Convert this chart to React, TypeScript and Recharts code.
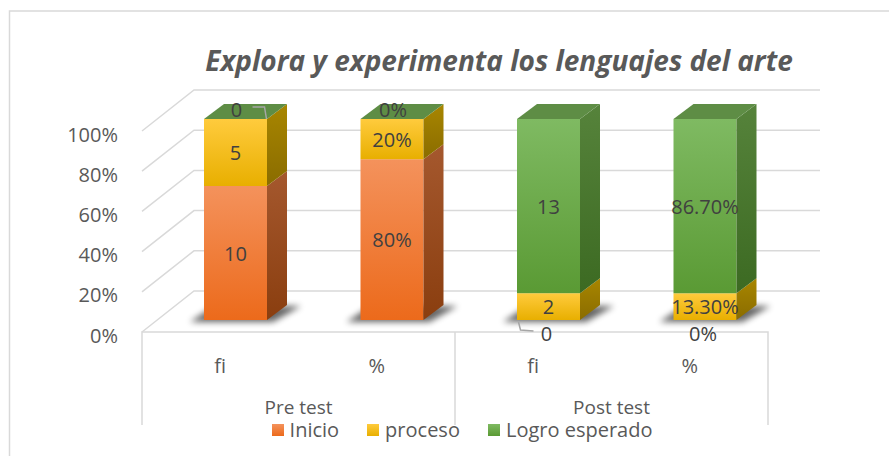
import React from "react";
import { Bar, BarChart, CartesianGrid, Customized, LabelList, XAxis, YAxis } from "recharts";

const categories = ["fi", "%", "fi", "%"];
const groups = ["Pre test", "Post test"];
const inicio = [10, 80, 0, 0];
const proceso = [5, 20, 2, 13.3];
const logro = [0, 0, 13, 86.7];
const inicioLabels = ["10", "80%", "0", "0%"];
const procesoLabels = ["5", "20%", "2", "13.30%"];
const logroLabels = ["0", "0%", "13", "86.70%"];
const yTicks = [0, 0.2, 0.4, 0.6, 0.8, 1];
const title = "Explora y experimenta los lenguajes del arte";

const W = 889;
const H = 456;
// plane the bars stand in; front and back planes are shifted from it
const PLOT = { left: 157, top: 119, width: 626, height: 201 };
const BAR_DEPTH = { dx: 20, dy: -15 };
const FRONT = { dx: -15, dy: 12 };
const BACK = { dx: 37, dy: -29 };
const FONT = "'Open Sans', sans-serif";
const AXIS_TEXT = "#595959";
const LABEL_TEXT = "#404040";
const GRID = "#d9d9d9";
const X_AXIS_H = 30;
const Y_AXIS_W = 60;

const series = [
  { key: "inicio", name: "Inicio", labelKey: "inicioLabel", zeroAt: "bottom", front: ["#F4925C", "#EC6A1B"], side: ["#A5582E", "#8A3E0F"], top: "#D2703A" },
  { key: "proceso", name: "proceso", labelKey: "procesoLabel", zeroAt: "top", front: ["#FFCB3D", "#E8AF00"], side: ["#A88600", "#8A6C00"], top: "#D8A800" },
  { key: "logro", name: "Logro esperado", labelKey: "logroLabel", zeroAt: "top", front: ["#7FBA62", "#5A9A34"], side: ["#56833B", "#3C6A22"], top: "#5E8D45" },
];

const data = categories.map((name, i) => ({
  name,
  inicio: inicio[i],
  proceso: proceso[i],
  logro: logro[i],
  inicioLabel: inicioLabels[i],
  procesoLabel: procesoLabels[i],
  logroLabel: logroLabels[i],
}));

function makeShape(s: (typeof series)[number], isBottom: boolean, isTop: boolean) {
  return (props: any) => {
    const { x, y, width, height } = props;
    const { dx, dy } = BAR_DEPTH;
    const base = y + height;
    return (
      <g>
        {isBottom && (
          <polygon
            points={`${x - 14},${base + 2} ${x + width + 6},${base + 2} ${x + width + 34},${base - 14} ${x + 10},${base - 14}`}
            fill="#000"
            opacity={0.6}
            filter="url(#barShadow)"
          />
        )}
        {height > 0 && <rect x={x} y={y} width={width} height={height} fill={`url(#front-${s.key})`} />}
        {height > 0 && (
          <polygon
            points={`${x + width},${y} ${x + width + dx},${y + dy} ${x + width + dx},${base + dy} ${x + width},${base}`}
            fill={`url(#side-${s.key})`}
          />
        )}
        {isTop && (
          <polygon points={`${x},${y} ${x + dx},${y + dy} ${x + width + dx},${y + dy} ${x + width},${y}`} fill={s.top} />
        )}
      </g>
    );
  };
}

function makeLabel(zeroAt: string) {
  return (props: any) => {
    const { x, y, width, height, value } = props;
    const cx = x + width / 2;
    const txt = { fontFamily: FONT, fontSize: 20, fill: LABEL_TEXT, textAnchor: "middle" as const, dominantBaseline: "central" as const };
    const zero = value === "0" || value === "0%";
    if (!zero) {
      return (
        <text x={cx} y={y + height / 2} {...txt}>
          {value}
        </text>
      );
    }
    if (zeroAt === "top") {
      return (
        <g>
          <text x={cx + 1} y={y - 10} {...txt}>
            {value}
          </text>
          {value === "0" && (
            <polyline points={`${cx + 17},${y - 12} ${cx + 29},${y - 12} ${cx + 31},${y}`} fill="none" stroke="#a6a6a6" strokeWidth={1.5} />
          )}
        </g>
      );
    }
    const base = y + height;
    return (
      <g>
        <text x={cx - 2} y={base + 13} {...txt}>
          {value}
        </text>
        {value === "0" && (
          <polyline points={`${cx - 30},${base + 2} ${cx - 28},${base + 10} ${cx - 15},${base + 11}`} fill="none" stroke="#a6a6a6" strokeWidth={1.5} />
        )}
      </g>
    );
  };
}

const gridLine = (p: any) => {
  const { x1, x2, y1 } = p;
  return (
    <polyline
      key={`grid-${y1}`}
      points={`${x1 + FRONT.dx},${y1 + FRONT.dy} ${x1 + BACK.dx},${y1 + BACK.dy} ${x2 + BACK.dx},${y1 + BACK.dy}`}
      fill="none"
      stroke={GRID}
      strokeWidth={1.5}
    />
  );
};

const YTick = (p: any) => (
  <text x={PLOT.left - 39} y={p.y + 15} textAnchor="end" dominantBaseline="central" fontFamily={FONT} fontSize={20} fill={AXIS_TEXT}>
    {`${Math.round(p.payload.value * 100)}%`}
  </text>
);

const XTick = (p: any) => (
  <text x={p.x + FRONT.dx} y={365} textAnchor="middle" dominantBaseline="central" fontFamily={FONT} fontSize={20} fill={AXIS_TEXT}>
    {p.payload.value}
  </text>
);

function Decorations() {
  const floorY = PLOT.top + PLOT.height + FRONT.dy;
  const left = PLOT.left + FRONT.dx;
  const right = PLOT.left + PLOT.width + FRONT.dx;
  const groupW = (right - left) / groups.length;
  const boxBottom = 425;
  return (
    <g>
      <defs>
        {series.map((s) => (
          <React.Fragment key={s.key}>
            <linearGradient id={`front-${s.key}`} x1="0" y1="0" x2="0" y2="1">
              <stop offset="0%" stopColor={s.front[0]} />
              <stop offset="100%" stopColor={s.front[1]} />
            </linearGradient>
            <linearGradient id={`side-${s.key}`} x1="0" y1="0" x2="0" y2="1">
              <stop offset="0%" stopColor={s.side[0]} />
              <stop offset="100%" stopColor={s.side[1]} />
            </linearGradient>
          </React.Fragment>
        ))}
        <filter id="barShadow" x="-50%" y="-100%" width="200%" height="300%">
          <feGaussianBlur stdDeviation="3" />
        </filter>
      </defs>
      <rect x={9.5} y={11} width={W} height={H} fill="none" stroke={GRID} strokeWidth={1.5} />
      <text x={499} y={71} textAnchor="middle" fontFamily={FONT} fontSize={28} fontWeight={700} fontStyle="italic" fill={AXIS_TEXT}>
        {title}
      </text>
      <polyline
        points={`${left},${boxBottom} ${left},${floorY} ${right},${floorY} ${right},${boxBottom}`}
        fill="none"
        stroke={GRID}
        strokeWidth={1.5}
      />
      {groups.slice(1).map((g, i) => (
        <line key={g} x1={left + groupW * (i + 1)} y1={floorY} x2={left + groupW * (i + 1)} y2={boxBottom} stroke={GRID} strokeWidth={1.5} />
      ))}
      {groups.map((g, i) => (
        <text key={g} x={left + groupW * (i + 0.5)} y={407} textAnchor="middle" dominantBaseline="central" fontFamily={FONT} fontSize={19} fill={AXIS_TEXT}>
          {g}
        </text>
      ))}
    </g>
  );
}

function LegendRow() {
  return (
    <div
      style={{
        position: "absolute",
        left: 0,
        top: 420,
        width: 924,
        display: "flex",
        justifyContent: "center",
        gap: 28,
        fontFamily: FONT,
        fontSize: 20,
        lineHeight: "20px",
        color: AXIS_TEXT,
      }}
    >
      {series.map((s) => (
        <div key={s.key} style={{ display: "flex", alignItems: "center" }}>
          <span
            style={{
              display: "inline-block",
              width: 12,
              height: 12,
              marginRight: 6,
              background: `linear-gradient(${s.front[0]}, ${s.front[1]})`,
            }}
          />
          <span>{s.name}</span>
        </div>
      ))}
    </div>
  );
}

export default function App() {
  return (
    <div style={{ position: "absolute", left: 0, top: 0, width: W, height: H, background: "#fff" }}>
      <BarChart
        width={W}
        height={H}
        data={data}
        stackOffset="expand"
        barSize={63}
        margin={{
          top: PLOT.top,
          right: W - PLOT.left - PLOT.width,
          bottom: H - PLOT.top - PLOT.height - X_AXIS_H,
          left: PLOT.left - Y_AXIS_W,
        }}
      >
        <Customized component={<Decorations />} />
        <CartesianGrid vertical={false} horizontal={gridLine} />
        <XAxis dataKey="name" height={X_AXIS_H} axisLine={false} tickLine={false} tickSize={0} tick={<XTick />} interval={0} />
        <YAxis width={Y_AXIS_W} domain={[0, 1]} ticks={yTicks} axisLine={false} tickLine={false} tickSize={0} tick={<YTick />} />
        {series.map((s, i) => (
          <Bar
            key={s.key}
            dataKey={s.key}
            name={s.name}
            stackId="a"
            isAnimationActive={false}
            shape={makeShape(s, i === 0, i === series.length - 1)}
          >
            <LabelList dataKey={s.labelKey} content={makeLabel(s.zeroAt)} />
          </Bar>
        ))}
      </BarChart>
      <LegendRow />
    </div>
  );
}
